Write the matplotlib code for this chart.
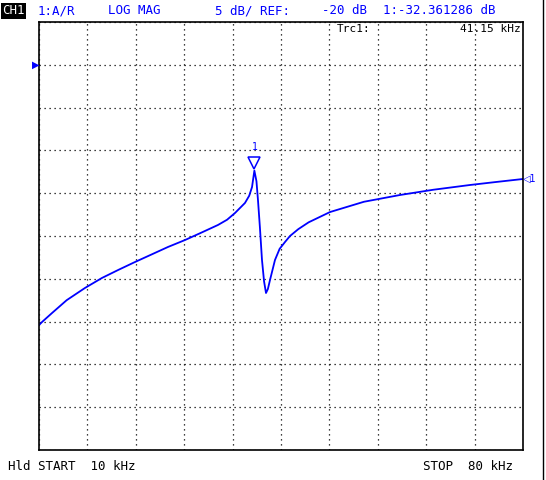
import matplotlib
matplotlib.use("Agg")
import matplotlib.pyplot as plt

freq_khz = [10, 10.5, 11.88, 14, 16.65, 19.11, 21.5, 23.88, 26.3, 28.66, 31.12, 33.5, 35.89, 37.2, 38.35, 39.79, 40.4, 40.81, 41.15, 41.45, 41.67, 41.95, 42.25, 42.55, 42.83, 43.1, 43.41, 44.13, 44.8, 45.58, 46.3, 47.5, 49, 52.09, 57, 62.21, 67, 72.34, 76, 80]
mag_db = [-50.4, -50.0, -49.0, -47.5, -46.07, -44.9, -43.95, -43.04, -42.15, -41.28, -40.47, -39.6, -38.71, -38.1, -37.31, -36.14, -35.3, -34.28, -32.36, -33.6, -35.8, -39.0, -42.8, -45.3, -46.66, -46.2, -45.14, -42.8, -41.5, -40.7, -40.0, -39.2, -38.4, -37.2, -36.0, -35.21, -34.6, -34.04, -33.7, -33.34]
marker_f = 41.15
marker_db = -32.361286

fam = ["DejaVu Sans Mono"]
blue = "#0000ff"
fig = plt.figure(figsize=(5.46, 4.8), dpi=100)
ax = fig.add_axes([39/546, 30/480, 484/546, 428/480])
ax.set_xlim(10, 80)
ax.set_ylim(-65, -15)
ax.set_xticks([10 + 7*i for i in range(11)])
ax.set_yticks([-65 + 5*i for i in range(11)])
ax.grid(True, color="black", linestyle=(0, (1, 3)), linewidth=0.9)
ax.tick_params(length=0, labelbottom=False, labelleft=False)
for s in ax.spines.values():
    s.set_linewidth(1.2)
ax.plot(freq_khz, mag_db, color=blue, lw=1.3)
ax.plot([marker_f], [marker_db + 0.9], marker="v", markersize=9, mfc="none", mec=blue, mew=1.1)
ax.text(marker_f, marker_db + 2.2, "1", color=blue, ha="center", va="bottom", fontsize=7, family=fam)
ax.text(80, mag_db[-1], "◁1", color=blue, ha="left", va="center", fontsize=7, family=["DejaVu Sans"], clip_on=False)
ax.text(10, -20, "▶", color=blue, ha="right", va="center", fontsize=7, family=["DejaVu Sans"], clip_on=False)
ax.text(0.615, 0.995, "Trc1:", transform=ax.transAxes, fontsize=8, family=fam, va="top", ha="left")
ax.text(0.995, 0.995, "41.15 kHz", transform=ax.transAxes, fontsize=8, family=fam, va="top", ha="right")

fig.text(2/546, 1-11/480, "CH1", color="white", fontsize=9, family=fam, va="center", ha="left",
         bbox=dict(facecolor="black", edgecolor="none", pad=1))
hdr = [(38, "1:A/R"), (108, "LOG MAG"), (215, "5 dB/ REF:"), (322, "-20 dB"), (383, "1:-32.361286 dB")]
for x, t in hdr:
    fig.text(x/546, 1-11/480, t, color=blue, fontsize=9, family=fam, va="center", ha="left")
fig.text(8/546, 1-467/480, "Hld START  10 kHz", fontsize=9, family=fam, va="center", ha="left")
fig.text(423/546, 1-467/480, "STOP  80 kHz", fontsize=9, family=fam, va="center", ha="left")
fig.add_artist(plt.Line2D([543/546, 543/546], [0, 1], color="black", lw=1, transform=fig.transFigure))
fig.savefig("out.png", dpi=100)
